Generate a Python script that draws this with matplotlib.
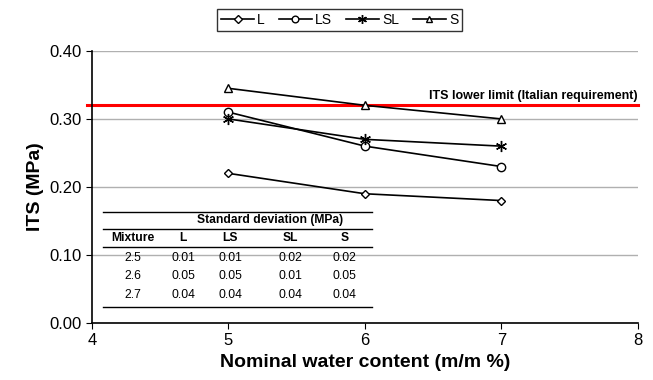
import matplotlib.pyplot as plt

plt.rcParams['font.family'] = ['Liberation Sans', 'DejaVu Sans']

# data
water = [5, 6, 7]
its_L = [0.22, 0.19, 0.18]
its_LS = [0.31, 0.26, 0.23]
its_SL = [0.30, 0.27, 0.26]
its_S = [0.345, 0.32, 0.30]
its_limit = 0.32

sd_mixture = ['2.5', '2.6', '2.7']
sd_cols = ['L', 'LS', 'SL', 'S']
sd_L = ['0.01', '0.05', '0.04']
sd_LS = ['0.01', '0.05', '0.04']
sd_SL = ['0.02', '0.01', '0.04']
sd_S = ['0.02', '0.05', '0.04']

fig = plt.figure(figsize=(6.53, 3.8), dpi=100)
ax = fig.add_axes([0.1409, 0.15, 0.836, 0.716])

mk = dict(color='black', lw=1.2, markerfacecolor='white', markeredgecolor='black',
          markersize=6, markeredgewidth=1)
ax.plot(water, its_L, marker='D', label='L', **{**mk, 'markersize': 4.5})
ax.plot(water, its_LS, marker='o', label='LS', **mk)
ax.plot(water, its_SL, marker=(6, 2, 0), label='SL', **{**mk, 'markersize': 8})
ax.plot(water, its_S, marker='^', label='S', **mk)

ax.axhline(its_limit, color='red', lw=2.2, xmin=-0.01, clip_on=False, zorder=1)
ax.text(8, its_limit + 0.005, 'ITS lower limit (Italian requirement)',
        ha='right', va='bottom', fontsize=9, fontweight='bold')

ax.set_xlim(4, 8)
ax.set_ylim(0, 0.40)
ax.set_xticks([4, 5, 6, 7, 8])
ax.set_yticks([0, 0.1, 0.2, 0.3, 0.4])
ax.set_yticklabels([f'{v:.2f}' for v in [0, 0.1, 0.2, 0.3, 0.4]])
ax.yaxis.grid(True, color='#b0b0b0', lw=1)
ax.set_axisbelow(True)
ax.spines['top'].set_visible(False)
ax.spines['right'].set_visible(False)
ax.spines['left'].set_linewidth(1.2)
ax.spines['bottom'].set_linewidth(1.2)
ax.tick_params(direction='out', length=4, labelsize=12)
ax.set_xlabel('Nominal water content (m/m %)', fontsize=14, fontweight='bold')
ax.set_ylabel('ITS (MPa)', fontsize=14, fontweight='bold')

# standard deviation table
T = ax.transAxes
for yl in [0.408, 0.346, 0.279, 0.059]:
    ax.plot([0.020, 0.513], [yl, yl], color='black', lw=1, transform=T)
ax.text(0.326, 0.379, 'Standard deviation (MPa)', transform=T, ha='center', va='center',
        fontsize=8.7, fontweight='bold')
col_x = [0.075, 0.167, 0.253, 0.363, 0.463]
for x, h in zip(col_x, ['Mixture'] + sd_cols):
    ax.text(x, 0.3125, h, transform=T, ha='center', va='center', fontsize=8.7, fontweight='bold')
row_y = [0.239, 0.173, 0.103]
for i, y in enumerate(row_y):
    row = [sd_mixture[i], sd_L[i], sd_LS[i], sd_SL[i], sd_S[i]]
    for x, v in zip(col_x, row):
        ax.text(x, y, v, transform=T, ha='center', va='center', fontsize=8.7)

leg = fig.legend(loc='upper center', bbox_to_anchor=(0.52, 0.995), ncol=4, frameon=True,
                 fancybox=False, edgecolor='black', fontsize=10, handlelength=2.4,
                 columnspacing=1.0, handletextpad=0.2, borderpad=0.3, markerscale=0.8)
leg.get_frame().set_linewidth(1)

fig.savefig('out.png', dpi=100)
